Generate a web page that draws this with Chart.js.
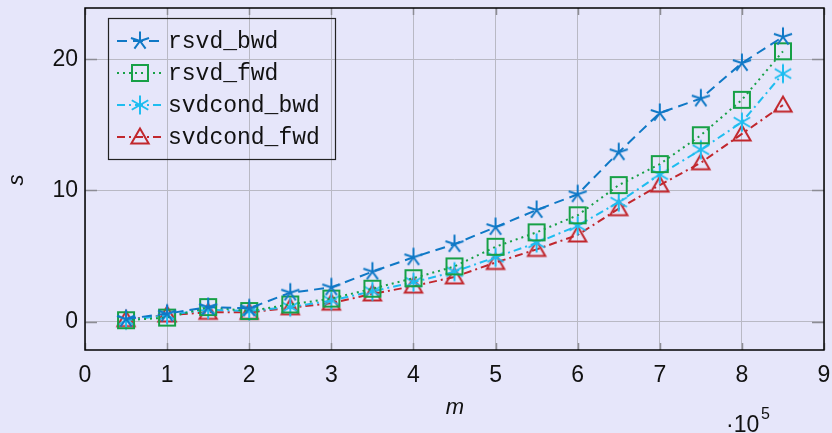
<!DOCTYPE html>
<html>
<head>
<meta charset="utf-8">
<script src="https://cdn.jsdelivr.net/npm/chart.js@4/dist/chart.umd.min.js"></script>
<style>
  html, body { margin: 0; padding: 0; background: #e6e6fa; }
  #wrap { width: 832px; height: 433px; position: relative; }
</style>
</head>
<body>
<div id="wrap"><canvas id="chart"></canvas></div>
<script>
// --- data (m in units of 10^5) ---
const m_values = [0.5, 1, 1.5, 2, 2.5, 3, 3.5, 4, 4.5, 5, 5.5, 6, 6.5, 7, 7.5, 8, 8.5];
const rsvd_bwd = [0.2, 0.6, 1.1, 1.0, 2.2, 2.6, 3.8, 4.9, 5.9, 7.2, 8.5, 9.7, 12.9, 15.9, 17.0, 19.7, 21.7];
const rsvd_fwd = [0.1, 0.3, 1.1, 0.8, 1.3, 1.75, 2.5, 3.3, 4.2, 5.7, 6.8, 8.1, 10.4, 12.0, 14.2, 16.9, 20.6];
const svdcond_bwd = [0.1, 0.5, 0.9, 0.8, 1.1, 1.6, 2.3, 3.0, 3.8, 4.9, 6.0, 7.3, 9.1, 11.2, 13.1, 15.2, 18.9];
const svdcond_fwd = [0.15, 0.5, 0.7, 0.7, 1.05, 1.4, 2.1, 2.7, 3.4, 4.5, 5.5, 6.6, 8.6, 10.4, 12.1, 14.3, 16.5];
const series_names = ["rsvd_bwd", "rsvd_fwd", "svdcond_bwd", "svdcond_fwd"];
const x_ticks = [0, 1, 2, 3, 4, 5, 6, 7, 8, 9];
const y_ticks = [0, 10, 20];

const BG = "#e6e6fa";
const GRID = "#b9b9c4";
const TICK = "#8c8c94";
const colors = ["#0f78c6", "#17a046", "#1ebdf0", "#c1272d"];
const dashes = [[10, 6], [2, 4], [8, 4, 2, 4], [8, 4, 2, 4]];

// --- marker images (pgfplots style: star, square, asterisk, triangle) ---
function makeMarker(kind, color) {
  const S = 26, c = S / 2;
  const cv = document.createElement("canvas");
  cv.width = S; cv.height = S;
  const g = cv.getContext("2d");
  g.strokeStyle = color;
  g.lineWidth = 2;
  g.lineJoin = "miter";
  if (kind === "star" || kind === "asterisk") {
    const arms = kind === "star" ? 5 : 6;
    const step = (2 * Math.PI) / arms;
    g.beginPath();
    for (let k = 0; k < arms; k++) {
      const a = -Math.PI / 2 + k * step;
      g.moveTo(c, c);
      g.lineTo(c + 9.5 * Math.cos(a), c + 9.5 * Math.sin(a));
    }
    g.stroke();
  } else if (kind === "square") {
    g.strokeRect(c - 8, c - 8, 16, 16);
  } else if (kind === "triangle") {
    const r = 10;
    g.beginPath();
    for (let k = 0; k < 3; k++) {
      const a = -Math.PI / 2 + k * (2 * Math.PI / 3);
      const px = c + r * Math.cos(a), py = c + 1.5 + r * Math.sin(a);
      if (k === 0) g.moveTo(px, py); else g.lineTo(px, py);
    }
    g.closePath();
    g.stroke();
  }
  return cv;
}
const markers = [
  makeMarker("star", colors[0]),
  makeMarker("square", colors[1]),
  makeMarker("asterisk", colors[2]),
  makeMarker("triangle", colors[3]),
];

const seriesValues = [rsvd_bwd, rsvd_fwd, svdcond_bwd, svdcond_fwd];
const datasets = seriesValues.map((vals, i) => ({
  label: series_names[i],
  data: m_values.map((x, j) => ({ x: x, y: vals[j] })),
  borderColor: colors[i],
  backgroundColor: colors[i],
  borderWidth: 2,
  borderDash: dashes[i],
  pointStyle: markers[i],
  pointRadius: 10,
  fill: false,
  tension: 0,
}));

// zero out the label overhang Chart.js reserves around the plot
function noOverhang(s) {
  s.paddingLeft = s.paddingRight = s.paddingTop = s.paddingBottom = 0;
}

// axis titles, frame, inner ticks and the legend box
const decor = {
  id: "decor",
  afterDraw(chart) {
    const ctx = chart.ctx;
    const a = chart.chartArea;
    const xs = chart.scales.x, ys = chart.scales.y;
    ctx.save();

    // pgfplots style inner tick marks
    ctx.strokeStyle = TICK;
    ctx.lineWidth = 1.5;
    ctx.beginPath();
    x_ticks.forEach((v) => {
      const px = Math.round(xs.getPixelForValue(v)) + 0.5;
      ctx.moveTo(px, a.bottom); ctx.lineTo(px, a.bottom - 7);
      ctx.moveTo(px, a.top); ctx.lineTo(px, a.top + 7);
    });
    y_ticks.forEach((v) => {
      const py = Math.round(ys.getPixelForValue(v)) + 0.5;
      ctx.moveTo(a.left, py); ctx.lineTo(a.left + 12, py);
      ctx.moveTo(a.right, py); ctx.lineTo(a.right - 12, py);
    });
    ctx.stroke();

    // frame
    ctx.strokeStyle = "#000";
    ctx.lineWidth = 1.5;
    ctx.strokeRect(a.left, a.top, a.right - a.left, a.bottom - a.top);

    // legend
    const lx = 108, ly = 18, lw = 227, lh = 141;
    ctx.strokeStyle = "#222";
    ctx.lineWidth = 1.2;
    ctx.strokeRect(lx + 0.5, ly + 0.5, lw, lh);
    const rows = [41, 73, 105, 137];
    ctx.font = "23px 'Liberation Mono', 'DejaVu Sans Mono', monospace";
    ctx.textBaseline = "middle";
    ctx.textAlign = "left";
    chart.data.datasets.forEach((ds, i) => {
      const y = rows[i];
      ctx.strokeStyle = ds.borderColor;
      ctx.lineWidth = 2;
      ctx.setLineDash(ds.borderDash);
      ctx.beginPath();
      ctx.moveTo(117, y); ctx.lineTo(163, y);
      ctx.stroke();
      ctx.setLineDash([]);
      const mk = ds.pointStyle;
      ctx.drawImage(mk, 140 - mk.width / 2, y - mk.height / 2);
      ctx.fillStyle = "#111";
      ctx.fillText(ds.label, 168, y + 1);
    });

    // axis titles
    ctx.fillStyle = "#111";
    ctx.font = "italic 22px 'Liberation Sans', sans-serif";
    ctx.textAlign = "center";
    ctx.textBaseline = "middle";
    ctx.fillText("m", 455, 408);
    ctx.save();
    ctx.translate(17, 180);
    ctx.rotate(-Math.PI / 2);
    ctx.fillText("s", 0, 0);
    ctx.restore();

    // exponent label
    ctx.font = "23px 'Liberation Sans', sans-serif";
    ctx.textAlign = "left";
    ctx.textBaseline = "alphabetic";
    ctx.fillText("\u00b710", 726, 432);
    ctx.font = "16px 'Liberation Sans', sans-serif";
    ctx.fillText("5", 761, 419);
    ctx.restore();
  },
};

const bgPlugin = {
  id: "bg",
  beforeDraw(chart) {
    const ctx = chart.ctx;
    ctx.save();
    ctx.fillStyle = BG;
    ctx.fillRect(0, 0, chart.width, chart.height);
    ctx.restore();
  },
};

new Chart(document.getElementById("chart").getContext("2d"), {
  type: "line",
  data: { datasets: datasets },
  options: {
    responsive: true,
    maintainAspectRatio: false,
    animation: false,
    layout: { autoPadding: false, padding: { top: 8, right: 8, left: 0, bottom: 0 } },
    plugins: { legend: { display: false }, tooltip: { enabled: false } },
    scales: {
      x: {
        type: "linear",
        min: 0,
        max: 9,
        afterFit: (s) => { s.height = 83; noOverhang(s); },
        afterBuildTicks: (s) => { s.ticks = x_ticks.map((v) => ({ value: v })); },
        grid: { color: GRID, lineWidth: 1, drawTicks: false },
        border: { display: false },
        ticks: {
          padding: 12,
          color: "#111",
          font: { family: "'Liberation Sans', sans-serif", size: 23 },
          maxRotation: 0,
        },
      },
      y: {
        type: "linear",
        min: -2.17,
        max: 23.9,
        afterFit: (s) => { s.width = 85; noOverhang(s); },
        afterBuildTicks: (s) => { s.ticks = y_ticks.map((v) => ({ value: v })); },
        grid: { color: GRID, lineWidth: 1, drawTicks: false },
        border: { display: false },
        ticks: {
          padding: 7,
          color: "#111",
          font: { family: "'Liberation Sans', sans-serif", size: 23 },
        },
      },
    },
  },
  plugins: [bgPlugin, decor],
});
</script>
</body>
</html>
